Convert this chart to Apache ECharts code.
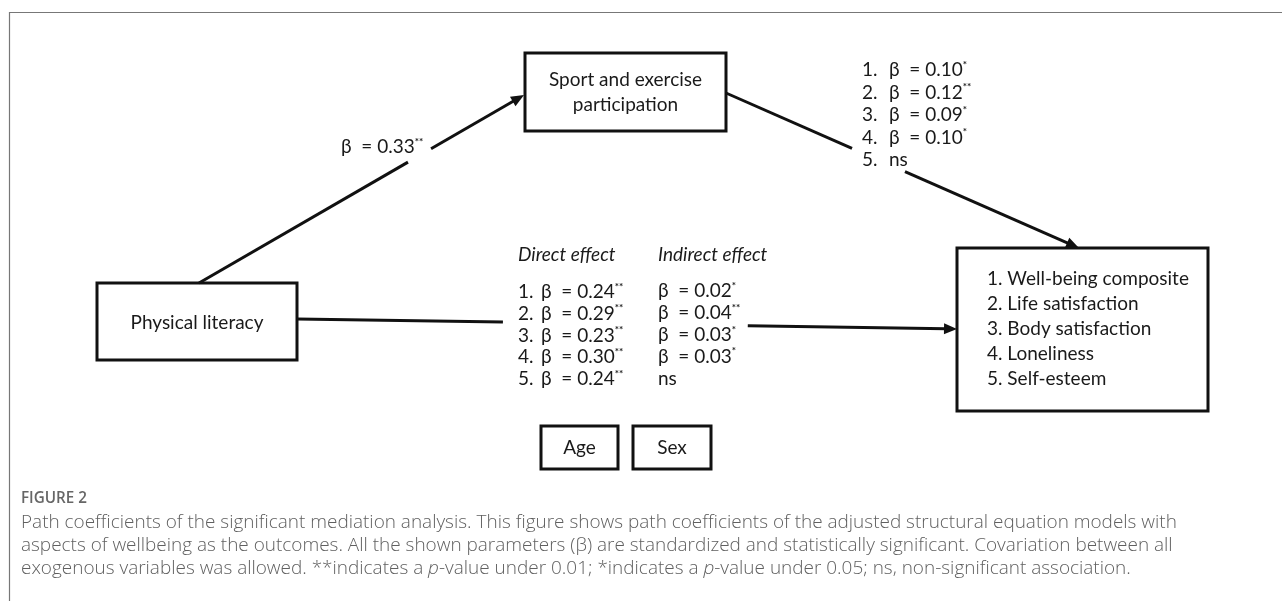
<!DOCTYPE html>
<html><head><meta charset="utf-8">
<script src="https://cdn.jsdelivr.net/npm/echarts@6/dist/echarts.min.js"></script>
<style>html,body{margin:0;padding:0;background:#fff}#c{width:1282px;height:601px}</style>
</head><body><div id="c"></div>
<script>
// ---------- data ----------
const exposure = 'Physical literacy';
const mediator = ['Sport and exercise', 'participation'];
const outcomes = ['Well-being composite', 'Life satisfaction', 'Body satisfaction', 'Loneliness', 'Self-esteem'];
const covariates = ['Age', 'Sex'];
const pathA = '0.33';
const pathASig = '**';
const pathB = ['0.10', '0.12', '0.09', '0.10', 'ns'];
const pathBSig = ['*', '**', '*', '*', ''];
const directBeta = ['0.24', '0.29', '0.23', '0.30', '0.24'];
const directSig = ['**', '**', '**', '**', '**'];
const indirectBeta = ['0.02', '0.04', '0.03', '0.03', 'ns'];
const indirectSig = ['*', '**', '*', '*', ''];
const figureLabel = 'FIGURE 2';
const captionLines = [
  [['Path coefficients of the significant mediation analysis. This figure shows path coefficients of the adjusted structural equation models with', '']],
  [['aspects of wellbeing as the outcomes. All the shown parameters (β) are standardized and statistically significant. Covariation between all', '']],
  [['exogenous variables was allowed. **indicates a ', ''], ['p', 'i'], ['-value under 0.01; *indicates a ', ''], ['p', 'i'], ['-value under 0.05; ns, non-significant association.', '']]
];

// ---------- layout (pixel space of hidden axes) ----------
const LAYOUT = {
  boxes: { pl: [97, 283, 297, 360], sp: [525, 53, 726, 131], out: [957, 248, 1208, 411], age: [541, 426, 618, 469], sex: [633, 426, 711, 469] },
  arrows: [ [199, 283, 524, 95, 0.643, 0.714], [726, 93, 1079, 248, 0.357, 0.507], [297, 319, 957, 329, 0.312, 0.683] ],
  fontMain: 'Lato', sizeMain: 19,
  capFamily: 'Open Sans', capWidth: 1157, figWidth: 66
};

function fitSize(text, font, target) {
  const ctx = document.createElement('canvas').getContext('2d');
  ctx.font = font.replace('{s}', '100px');
  return 100 * target / ctx.measureText(text).width;
}
const capSize = fitSize(captionLines[0][0][0], '300 {s} "Open Sans"', LAYOUT.capWidth);
const figSize = fitSize(figureLabel, '600 {s} "Open Sans"', LAYOUT.figWidth);

function beta(v, sig) {
  if (v === 'ns') return 'ns';
  return 'β  = ' + v + (sig ? '{s|' + sig + '}' : '');
}

const texts = [];
const B = LAYOUT.boxes;
texts.push({ x: (B.sp[0] + B.sp[2]) / 2, y: 80, t: mediator[0], a: 'center' });
texts.push({ x: (B.sp[0] + B.sp[2]) / 2, y: 105, t: mediator[1], a: 'center' });
texts.push({ x: (B.pl[0] + B.pl[2]) / 2, y: 323, t: exposure, a: 'center' });
texts.push({ x: (B.age[0] + B.age[2]) / 2, y: 448, t: covariates[0], a: 'center' });
texts.push({ x: (B.sex[0] + B.sex[2]) / 2, y: 448, t: covariates[1], a: 'center' });
outcomes.forEach((o, i) => texts.push({ x: 987, y: 279 + i * 25, t: (i + 1) + '. ' + o, a: 'left' }));
texts.push({ x: 341, y: 147, t: beta(pathA, pathASig), a: 'left' });
pathB.forEach((v, i) => {
  texts.push({ x: 862, y: 70 + i * 22.5, t: (i + 1) + '.', a: 'left' });
  texts.push({ x: 889, y: 70 + i * 22.5, t: beta(v, pathBSig[i]), a: 'left' });
});
texts.push({ x: 518, y: 255, t: 'Direct effect', a: 'left', it: true });
texts.push({ x: 658, y: 255, t: 'Indirect effect', a: 'left', it: true });
directBeta.forEach((v, i) => {
  texts.push({ x: 518, y: 292 + i * 21.7, t: (i + 1) + '.', a: 'left' });
  texts.push({ x: 541, y: 292 + i * 21.7, t: beta(v, directSig[i]), a: 'left' });
});
indirectBeta.forEach((v, i) => {
  texts.push({ x: 658, y: 291 + i * 21.9, t: beta(v, indirectSig[i]), a: 'left' });
});

const INK = '#111';
const chart = echarts.init(document.getElementById('c'), null, { renderer: 'canvas' });
chart.setOption({
  animation: false,
  grid: { left: 0, right: 0, top: 0, bottom: 0 },
  xAxis: { type: 'value', min: 0, max: 1282, show: false },
  yAxis: { type: 'value', min: 0, max: 601, inverse: true, show: false },
  graphic: [
    { type: 'polyline', shape: { points: [[1282, 12.5], [9.5, 12.5], [9.5, 601]] }, style: { stroke: '#777', lineWidth: 1.2, fill: null } },
    { type: 'text', x: 21, y: 499, style: { text: figureLabel, fill: '#666', font: '600 ' + figSize.toFixed(2) + 'px "Open Sans"', verticalAlign: 'middle' } }
  ].concat(captionLines.map((ln, i) => ({
    type: 'text', x: 21, y: 523 + i * 23,
    style: {
      text: ln.map(p => p[1] ? '{' + p[1] + '|' + p[0] + '}' : p[0]).join(''),
      fill: '#606060', font: '300 ' + capSize.toFixed(2) + 'px "Open Sans"', verticalAlign: 'middle',
      rich: { i: { fontStyle: 'italic', fontWeight: 300, fontSize: capSize, fontFamily: 'Open Sans', fill: '#606060' } }
    }
  }))),
  series: [
    {
      type: 'custom', coordinateSystem: 'cartesian2d', silent: true,
      data: Object.values(LAYOUT.boxes),
      renderItem: (params, api) => {
        const p1 = api.coord([api.value(0), api.value(1)]);
        const p2 = api.coord([api.value(2), api.value(3)]);
        return { type: 'rect', shape: { x: p1[0], y: p1[1], width: p2[0] - p1[0], height: p2[1] - p1[1] },
          style: { fill: null, stroke: INK, lineWidth: 3 } };
      }
    },
    {
      type: 'custom', coordinateSystem: 'cartesian2d', silent: true,
      data: LAYOUT.arrows,
      renderItem: (params, api) => {
        const a = api.coord([api.value(0), api.value(1)]);
        const b = api.coord([api.value(2), api.value(3)]);
        const g0 = api.value(4), g1 = api.value(5);
        const P = t => [a[0] + (b[0] - a[0]) * t, a[1] + (b[1] - a[1]) * t];
        const dx = b[0] - a[0], dy = b[1] - a[1], len = Math.hypot(dx, dy);
        const ux = dx / len, uy = dy / len, hl = 13, hw = 5.5;
        const base = [b[0] - ux * hl, b[1] - uy * hl];
        const s0 = P(g0), s1 = P(g1);
        return { type: 'group', children: [
          { type: 'line', shape: { x1: a[0], y1: a[1], x2: s0[0], y2: s0[1] }, style: { stroke: INK, lineWidth: 3 } },
          { type: 'line', shape: { x1: s1[0], y1: s1[1], x2: base[0] + ux * 2, y2: base[1] + uy * 2 }, style: { stroke: INK, lineWidth: 3 } },
          { type: 'polygon', shape: { points: [b, [base[0] - uy * hw, base[1] + ux * hw], [base[0] + uy * hw, base[1] - ux * hw]] }, style: { fill: INK } }
        ] };
      }
    },
    {
      type: 'custom', coordinateSystem: 'cartesian2d', silent: true,
      data: texts.map(t => [t.x, t.y]),
      renderItem: (params, api) => {
        const t = texts[params.dataIndex];
        const p = api.coord([api.value(0), api.value(1)]);
        return { type: 'text', style: {
          x: p[0], y: p[1], text: t.t, align: t.a, verticalAlign: 'middle',
          fill: '#1a1a1a', fontFamily: LAYOUT.fontMain, fontSize: LAYOUT.sizeMain, fontStyle: t.it ? 'italic' : 'normal',
          rich: { s: { fontSize: 10, fontWeight: 'bold', verticalAlign: 'top', fill: '#1a1a1a', fontFamily: LAYOUT.fontMain, lineHeight: 21 } }
        } };
      }
    }
  ]
});
</script></body></html>
